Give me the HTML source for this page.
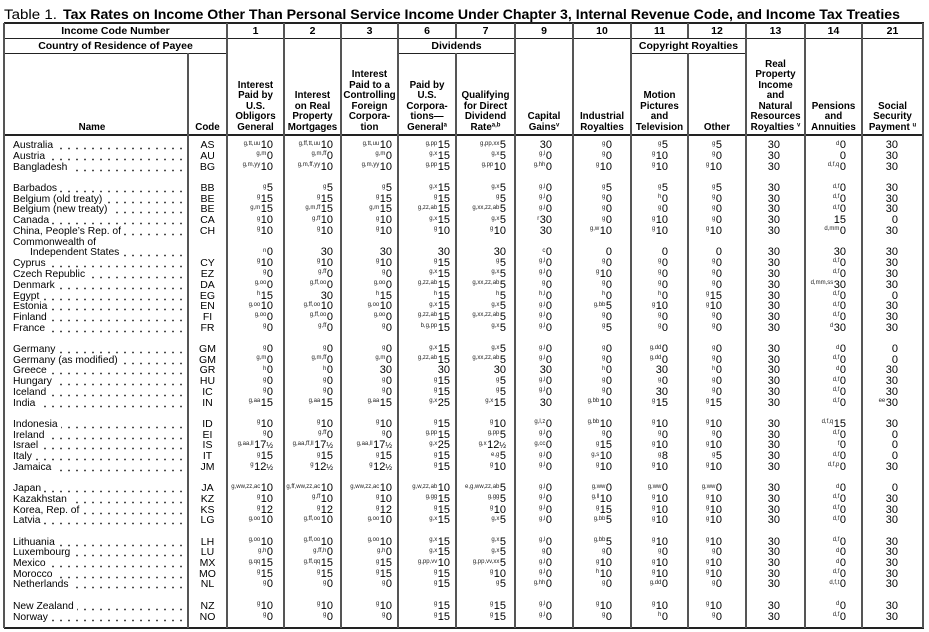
<!DOCTYPE html>
<html><head><meta charset="utf-8">
<style>
body{margin:0;background:#fff}
#p{position:relative;width:929px;height:632px;overflow:hidden;background:#fff;font-family:"Liberation Sans",Arial,sans-serif;color:#000}
.h{position:absolute;background:#222;height:1px}
.v{position:absolute;background:#555;width:2px}
.t{position:absolute;font-weight:bold;font-size:10.5px;line-height:15px;height:15px;text-align:center;white-space:nowrap}
.hd{position:absolute;bottom:499px;text-align:center;font-weight:bold;font-size:9.8px;line-height:10.5px;white-space:nowrap}
.hd i{font-style:normal;font-size:6px;line-height:0;vertical-align:3.5px}
.r{position:absolute;left:0;width:929px;height:11px;line-height:11px;font-size:11px}
.r>div{position:absolute;top:0;white-space:nowrap}
.r i{font-style:normal;font-size:6px;line-height:0;vertical-align:3.5px;margin-right:.5px;color:#222}
.r b{font-weight:normal;font-size:8px}
.n{left:13px;width:172px;font-size:10.3px;background-image:radial-gradient(circle,#333 0.7px,rgba(255,255,255,0) 1.1px);background-size:8px 3px;background-repeat:repeat-x;background-position:right 0 top 7px}
.n span{background:#fff;padding-right:3px}
.n.in{left:30px;width:155px}
.n.nd{background:none}
.cd{left:188px;width:39px;text-align:center;font-size:10.5px}
.c1{right:656px}.c2{right:596px}.c3{right:537px}.c6{right:479px}.c7{right:423px}.c9{right:377px}.c10{right:317px}.c11{right:261px}.c12{right:207px}.c13{right:149px}.c14{right:83px}.c21{right:31px}
</style></head><body><div id="p">

<svg width="929" height="23" style="position:absolute;left:0;top:0">
<text y="19" font-family="Liberation Sans, Arial, sans-serif" font-size="13.5"><tspan x="4" textLength="53" lengthAdjust="spacingAndGlyphs">Table 1.</tspan><tspan x="63" font-weight="bold" textLength="837" lengthAdjust="spacingAndGlyphs">Tax Rates on Income Other Than Personal Service Income Under Chapter 3, Internal Revenue Code, and Income Tax Treaties</tspan></text>
</svg>

<!-- horizontal lines -->
<div class="h" style="left:4px;width:920px;top:22px;height:2px"></div>
<div class="h" style="left:4px;width:920px;top:38px"></div>
<div class="h" style="left:4px;width:224px;top:53px"></div>
<div class="h" style="left:398px;width:118px;top:53px"></div>
<div class="h" style="left:631px;width:116px;top:53px"></div>
<div class="h" style="left:4px;width:920px;top:134px;height:2px"></div>
<div class="h" style="left:4px;width:920px;top:627px;height:2px"></div>

<!-- vertical lines -->
<div class="v" style="left:3px;top:23px;height:605px"></div>
<div class="v" style="left:187px;top:53px;height:575px"></div>
<div class="v" style="left:226px;top:23px;height:605px"></div>
<div class="v" style="left:283px;top:23px;height:605px"></div>
<div class="v" style="left:340px;top:23px;height:605px"></div>
<div class="v" style="left:397px;top:23px;height:605px"></div>
<div class="v" style="left:455px;top:23px;height:15px"></div>
<div class="v" style="left:455px;top:53px;height:575px"></div>
<div class="v" style="left:514px;top:23px;height:605px"></div>
<div class="v" style="left:572px;top:23px;height:605px"></div>
<div class="v" style="left:630px;top:23px;height:605px"></div>
<div class="v" style="left:687px;top:23px;height:15px"></div>
<div class="v" style="left:687px;top:53px;height:575px"></div>
<div class="v" style="left:745px;top:23px;height:605px"></div>
<div class="v" style="left:804px;top:23px;height:605px"></div>
<div class="v" style="left:861px;top:23px;height:605px"></div>
<div class="v" style="left:922px;top:23px;height:605px"></div>

<!-- header row 1 -->
<div class="t" style="top:24px;left:4px;width:223px">Income Code Number</div>
<div class="t" style="top:24px;left:227px;width:57px">1</div>
<div class="t" style="top:24px;left:284px;width:57px">2</div>
<div class="t" style="top:24px;left:341px;width:57px">3</div>
<div class="t" style="top:24px;left:398px;width:58px">6</div>
<div class="t" style="top:24px;left:456px;width:59px">7</div>
<div class="t" style="top:24px;left:515px;width:58px">9</div>
<div class="t" style="top:24px;left:573px;width:58px">10</div>
<div class="t" style="top:24px;left:631px;width:57px">11</div>
<div class="t" style="top:24px;left:688px;width:58px">12</div>
<div class="t" style="top:24px;left:746px;width:59px">13</div>
<div class="t" style="top:24px;left:805px;width:57px">14</div>
<div class="t" style="top:24px;left:862px;width:61px">21</div>
<!-- header row 2 -->
<div class="t" style="top:39px;left:4px;width:223px">Country of Residence of Payee</div>
<div class="t" style="top:39px;left:398px;width:117px">Dividends</div>
<div class="t" style="top:39px;left:631px;width:115px">Copyright Royalties</div>

<!-- column headers -->
<div class="hd" style="left:4px;width:176px">Name</div>
<div class="hd" style="left:188px;width:39px">Code</div>
<div class="hd" style="left:227px;width:57px">Interest<br>Paid by<br>U.S.<br>Obligors<br>General</div>
<div class="hd" style="left:284px;width:57px">Interest<br>on Real<br>Property<br>Mortgages</div>
<div class="hd" style="left:341px;width:57px">Interest<br>Paid to a<br>Controlling<br>Foreign<br>Corpora-<br>tion</div>
<div class="hd" style="left:398px;width:58px">Paid by<br>U.S.<br>Corpora-<br>tions—<br>General<i>a</i></div>
<div class="hd" style="left:456px;width:59px">Qualifying<br>for Direct<br>Dividend<br>Rate<i>a,b</i></div>
<div class="hd" style="left:515px;width:58px">Capital<br>Gains<i>v</i></div>
<div class="hd" style="left:573px;width:58px">Industrial<br>Royalties</div>
<div class="hd" style="left:631px;width:57px">Motion<br>Pictures<br>and<br>Television</div>
<div class="hd" style="left:688px;width:58px">Other</div>
<div class="hd" style="left:746px;width:59px">Real<br>Property<br>Income<br>and<br>Natural<br>Resources<br>Royalties <i>v</i></div>
<div class="hd" style="left:805px;width:57px">Pensions<br>and<br>Annuities</div>
<div class="hd" style="left:862px;width:61px">Social<br>Security<br>Payment <i>u</i></div>

<!-- data rows -->
<div class="r" style="top:140.2px"><div class="n"><span>Australia</span></div><div class="cd">AS</div><div class="c1"><i>g,tt,uu</i>10</div><div class="c2"><i>g,ff,tt,uu</i>10</div><div class="c3"><i>g,tt,uu</i>10</div><div class="c6"><i>g,pp</i>15</div><div class="c7"><i>g,pp,xx</i>5</div><div class="c9">30</div><div class="c10"><i>g</i>0</div><div class="c11"><i>g</i>5</div><div class="c12"><i>g</i>5</div><div class="c13">30</div><div class="c14"><i>d</i>0</div><div class="c21">30</div></div>
<div class="r" style="top:150.9px"><div class="n"><span>Austria</span></div><div class="cd">AU</div><div class="c1"><i>g,m</i>0</div><div class="c2"><i>g,m,ff</i>0</div><div class="c3"><i>g,m</i>0</div><div class="c6"><i>g,x</i>15</div><div class="c7"><i>g,x</i>5</div><div class="c9"><i>g,l</i>0</div><div class="c10"><i>g</i>0</div><div class="c11"><i>g</i>10</div><div class="c12"><i>g</i>0</div><div class="c13">30</div><div class="c14">0</div><div class="c21">30</div></div>
<div class="r" style="top:161.6px"><div class="n"><span>Bangladesh</span></div><div class="cd">BG</div><div class="c1"><i>g,m,yy</i>10</div><div class="c2"><i>g,m,ff,yy</i>10</div><div class="c3"><i>g,m,yy</i>10</div><div class="c6"><i>g,pp</i>15</div><div class="c7"><i>g,pp</i>10</div><div class="c9"><i>g,hh</i>0</div><div class="c10"><i>g</i>10</div><div class="c11"><i>g</i>10</div><div class="c12"><i>g</i>10</div><div class="c13">30</div><div class="c14"><i>d,f,q</i>0</div><div class="c21">30</div></div>

<div class="r" style="top:183.0px"><div class="n"><span>Barbados</span></div><div class="cd">BB</div><div class="c1"><i>g</i>5</div><div class="c2"><i>g</i>5</div><div class="c3"><i>g</i>5</div><div class="c6"><i>g,x</i>15</div><div class="c7"><i>g,x</i>5</div><div class="c9"><i>g,l</i>0</div><div class="c10"><i>g</i>5</div><div class="c11"><i>g</i>5</div><div class="c12"><i>g</i>5</div><div class="c13">30</div><div class="c14"><i>d,f</i>0</div><div class="c21">30</div></div>
<div class="r" style="top:193.7px"><div class="n"><span>Belgium (old treaty)</span></div><div class="cd">BE</div><div class="c1"><i>g</i>15</div><div class="c2"><i>g</i>15</div><div class="c3"><i>g</i>15</div><div class="c6"><i>g</i>15</div><div class="c7"><i>g</i>5</div><div class="c9"><i>g,l</i>0</div><div class="c10"><i>g</i>0</div><div class="c11"><i>h</i>0</div><div class="c12"><i>g</i>0</div><div class="c13">30</div><div class="c14"><i>d,f</i>0</div><div class="c21">30</div></div>
<div class="r" style="top:204.4px"><div class="n"><span>Belgium (new treaty)</span></div><div class="cd">BE</div><div class="c1"><i>g,m</i>15</div><div class="c2"><i>g,m,ff</i>15</div><div class="c3"><i>g,m</i>15</div><div class="c6"><i>g,zz,ab</i>15</div><div class="c7"><i>g,xx,zz,ab</i>5</div><div class="c9"><i>g,l</i>0</div><div class="c10"><i>g</i>0</div><div class="c11"><i>g</i>0</div><div class="c12"><i>g</i>0</div><div class="c13">30</div><div class="c14"><i>d,f</i>0</div><div class="c21">30</div></div>
<div class="r" style="top:215.1px"><div class="n"><span>Canada</span></div><div class="cd">CA</div><div class="c1"><i>g</i>10</div><div class="c2"><i>g,ff</i>10</div><div class="c3"><i>g</i>10</div><div class="c6"><i>g,x</i>15</div><div class="c7"><i>g,x</i>5</div><div class="c9"><i>r</i>30</div><div class="c10"><i>g</i>0</div><div class="c11"><i>g</i>10</div><div class="c12"><i>g</i>0</div><div class="c13">30</div><div class="c14">15</div><div class="c21">0</div></div>
<div class="r" style="top:225.8px"><div class="n"><span>China, People’s Rep. of</span></div><div class="cd">CH</div><div class="c1"><i>g</i>10</div><div class="c2"><i>g</i>10</div><div class="c3"><i>g</i>10</div><div class="c6"><i>g</i>10</div><div class="c7"><i>g</i>10</div><div class="c9">30</div><div class="c10"><i>g,w</i>10</div><div class="c11"><i>g</i>10</div><div class="c12"><i>g</i>10</div><div class="c13">30</div><div class="c14"><i>d,mm</i>0</div><div class="c21">30</div></div>
<div class="r" style="top:236.5px"><div class="n nd"><span>Commonwealth of</span></div></div>
<div class="r" style="top:247.2px"><div class="n in"><span>Independent States</span></div><div class="c1"><i>n</i>0</div><div class="c2">30</div><div class="c3">30</div><div class="c6">30</div><div class="c7">30</div><div class="c9"><i>c</i>0</div><div class="c10">0</div><div class="c11">0</div><div class="c12">0</div><div class="c13">30</div><div class="c14">30</div><div class="c21">30</div></div>
<div class="r" style="top:257.9px"><div class="n"><span>Cyprus</span></div><div class="cd">CY</div><div class="c1"><i>g</i>10</div><div class="c2"><i>g</i>10</div><div class="c3"><i>g</i>10</div><div class="c6"><i>g</i>15</div><div class="c7"><i>g</i>5</div><div class="c9"><i>g,l</i>0</div><div class="c10"><i>g</i>0</div><div class="c11"><i>g</i>0</div><div class="c12"><i>g</i>0</div><div class="c13">30</div><div class="c14"><i>d,f</i>0</div><div class="c21">30</div></div>
<div class="r" style="top:268.6px"><div class="n"><span>Czech Republic</span></div><div class="cd">EZ</div><div class="c1"><i>g</i>0</div><div class="c2"><i>g,ff</i>0</div><div class="c3"><i>g</i>0</div><div class="c6"><i>g,x</i>15</div><div class="c7"><i>g,x</i>5</div><div class="c9"><i>g,l</i>0</div><div class="c10"><i>g</i>10</div><div class="c11"><i>g</i>0</div><div class="c12"><i>g</i>0</div><div class="c13">30</div><div class="c14"><i>d,f</i>0</div><div class="c21">30</div></div>
<div class="r" style="top:279.8px"><div class="n"><span>Denmark</span></div><div class="cd">DA</div><div class="c1"><i>g,oo</i>0</div><div class="c2"><i>g,ff,oo</i>0</div><div class="c3"><i>g,oo</i>0</div><div class="c6"><i>g,zz,ab</i>15</div><div class="c7"><i>g,xx,zz,ab</i>5</div><div class="c9"><i>g</i>0</div><div class="c10"><i>g</i>0</div><div class="c11"><i>g</i>0</div><div class="c12"><i>g</i>0</div><div class="c13">30</div><div class="c14"><i>d,mm,ss</i>30</div><div class="c21">30</div></div>
<div class="r" style="top:290.5px"><div class="n"><span>Egypt</span></div><div class="cd">EG</div><div class="c1"><i>h</i>15</div><div class="c2">30</div><div class="c3"><i>h</i>15</div><div class="c6"><i>h</i>15</div><div class="c7"><i>h</i>5</div><div class="c9"><i>h,l</i>0</div><div class="c10"><i>h</i>0</div><div class="c11"><i>h</i>0</div><div class="c12"><i>g</i>15</div><div class="c13">30</div><div class="c14"><i>d,f</i>0</div><div class="c21">0</div></div>
<div class="r" style="top:301.2px"><div class="n"><span>Estonia</span></div><div class="cd">EN</div><div class="c1"><i>g,oo</i>10</div><div class="c2"><i>g,ff,oo</i>10</div><div class="c3"><i>g,oo</i>10</div><div class="c6"><i>g,x</i>15</div><div class="c7"><i>g,x</i>5</div><div class="c9"><i>g,l</i>0</div><div class="c10"><i>g,bb</i>5</div><div class="c11"><i>g</i>10</div><div class="c12"><i>g</i>10</div><div class="c13">30</div><div class="c14"><i>d,f</i>0</div><div class="c21">30</div></div>
<div class="r" style="top:311.9px"><div class="n"><span>Finland</span></div><div class="cd">FI</div><div class="c1"><i>g,oo</i>0</div><div class="c2"><i>g,ff,oo</i>0</div><div class="c3"><i>g,oo</i>0</div><div class="c6"><i>g,zz,ab</i>15</div><div class="c7"><i>g,xx,zz,ab</i>5</div><div class="c9"><i>g,l</i>0</div><div class="c10"><i>g</i>0</div><div class="c11"><i>g</i>0</div><div class="c12"><i>g</i>0</div><div class="c13">30</div><div class="c14"><i>d,f</i>0</div><div class="c21">30</div></div>
<div class="r" style="top:322.6px"><div class="n"><span>France</span></div><div class="cd">FR</div><div class="c1"><i>g</i>0</div><div class="c2"><i>g,ff</i>0</div><div class="c3"><i>g</i>0</div><div class="c6"><i>b,g,pp</i>15</div><div class="c7"><i>g,x</i>5</div><div class="c9"><i>g,l</i>0</div><div class="c10"><i>g</i>5</div><div class="c11"><i>g</i>0</div><div class="c12"><i>g</i>0</div><div class="c13">30</div><div class="c14"><i>d</i>30</div><div class="c21">30</div></div>

<div class="r" style="top:344.0px"><div class="n"><span>Germany</span></div><div class="cd">GM</div><div class="c1"><i>g</i>0</div><div class="c2"><i>g</i>0</div><div class="c3"><i>g</i>0</div><div class="c6"><i>g,x</i>15</div><div class="c7"><i>g,x</i>5</div><div class="c9"><i>g,l</i>0</div><div class="c10"><i>g</i>0</div><div class="c11"><i>g,dd</i>0</div><div class="c12"><i>g</i>0</div><div class="c13">30</div><div class="c14"><i>d</i>0</div><div class="c21">0</div></div>
<div class="r" style="top:354.7px"><div class="n"><span>Germany (as modified)</span></div><div class="cd">GM</div><div class="c1"><i>g,m</i>0</div><div class="c2"><i>g,m,ff</i>0</div><div class="c3"><i>g,m</i>0</div><div class="c6"><i>g,zz,ab</i>15</div><div class="c7"><i>g,xx,zz,ab</i>5</div><div class="c9"><i>g,l</i>0</div><div class="c10"><i>g</i>0</div><div class="c11"><i>g,dd</i>0</div><div class="c12"><i>g</i>0</div><div class="c13">30</div><div class="c14"><i>d,f</i>0</div><div class="c21">0</div></div>
<div class="r" style="top:365.4px"><div class="n"><span>Greece</span></div><div class="cd">GR</div><div class="c1"><i>h</i>0</div><div class="c2"><i>h</i>0</div><div class="c3">30</div><div class="c6">30</div><div class="c7">30</div><div class="c9">30</div><div class="c10"><i>h</i>0</div><div class="c11">30</div><div class="c12"><i>h</i>0</div><div class="c13">30</div><div class="c14"><i>d</i>0</div><div class="c21">30</div></div>
<div class="r" style="top:376.1px"><div class="n"><span>Hungary</span></div><div class="cd">HU</div><div class="c1"><i>g</i>0</div><div class="c2"><i>g</i>0</div><div class="c3"><i>g</i>0</div><div class="c6"><i>g</i>15</div><div class="c7"><i>g</i>5</div><div class="c9"><i>g,l</i>0</div><div class="c10"><i>g</i>0</div><div class="c11"><i>g</i>0</div><div class="c12"><i>g</i>0</div><div class="c13">30</div><div class="c14"><i>d,f</i>0</div><div class="c21">30</div></div>
<div class="r" style="top:386.8px"><div class="n"><span>Iceland</span></div><div class="cd">IC</div><div class="c1"><i>g</i>0</div><div class="c2"><i>g</i>0</div><div class="c3"><i>g</i>0</div><div class="c6"><i>g</i>15</div><div class="c7"><i>g</i>5</div><div class="c9"><i>g,l</i>0</div><div class="c10"><i>g</i>0</div><div class="c11">30</div><div class="c12"><i>g</i>0</div><div class="c13">30</div><div class="c14"><i>d,f</i>0</div><div class="c21">30</div></div>
<div class="r" style="top:397.5px"><div class="n"><span>India</span></div><div class="cd">IN</div><div class="c1"><i>g,aa</i>15</div><div class="c2"><i>g,aa</i>15</div><div class="c3"><i>g,aa</i>15</div><div class="c6"><i>g,x</i>25</div><div class="c7"><i>g,x</i>15</div><div class="c9">30</div><div class="c10"><i>g,bb</i>10</div><div class="c11"><i>g</i>15</div><div class="c12"><i>g</i>15</div><div class="c13">30</div><div class="c14"><i>d,f</i>0</div><div class="c21"><i>ee</i>30</div></div>

<div class="r" style="top:418.9px"><div class="n"><span>Indonesia</span></div><div class="cd">ID</div><div class="c1"><i>g</i>10</div><div class="c2"><i>g</i>10</div><div class="c3"><i>g</i>10</div><div class="c6"><i>g</i>15</div><div class="c7"><i>g</i>10</div><div class="c9"><i>g,l,z</i>0</div><div class="c10"><i>g,bb</i>10</div><div class="c11"><i>g</i>10</div><div class="c12"><i>g</i>10</div><div class="c13">30</div><div class="c14"><i>d,f,q</i>15</div><div class="c21">30</div></div>
<div class="r" style="top:429.6px"><div class="n"><span>Ireland</span></div><div class="cd">EI</div><div class="c1"><i>g</i>0</div><div class="c2"><i>g,ff</i>0</div><div class="c3"><i>g</i>0</div><div class="c6"><i>g,pp</i>15</div><div class="c7"><i>g,pp</i>5</div><div class="c9"><i>g,l</i>0</div><div class="c10"><i>g</i>0</div><div class="c11"><i>g</i>0</div><div class="c12"><i>g</i>0</div><div class="c13">30</div><div class="c14"><i>d,f</i>0</div><div class="c21">0</div></div>
<div class="r" style="top:440.3px"><div class="n"><span>Israel</span></div><div class="cd">IS</div><div class="c1"><i>g,aa,ll</i>17<b>½</b></div><div class="c2"><i>g,aa,ff,ll</i>17<b>½</b></div><div class="c3"><i>g,aa,ll</i>17<b>½</b></div><div class="c6"><i>g,x</i>25</div><div class="c7"><i>g,x</i>12<b>½</b></div><div class="c9"><i>g,cc</i>0</div><div class="c10"><i>g</i>15</div><div class="c11"><i>g</i>10</div><div class="c12"><i>g</i>10</div><div class="c13">30</div><div class="c14"><i>f</i>0</div><div class="c21">0</div></div>
<div class="r" style="top:451.0px"><div class="n"><span>Italy</span></div><div class="cd">IT</div><div class="c1"><i>g</i>15</div><div class="c2"><i>g</i>15</div><div class="c3"><i>g</i>15</div><div class="c6"><i>g</i>15</div><div class="c7"><i>e,g</i>5</div><div class="c9"><i>g,l</i>0</div><div class="c10"><i>g,s</i>10</div><div class="c11"><i>g</i>8</div><div class="c12"><i>g</i>5</div><div class="c13">30</div><div class="c14"><i>d,f</i>0</div><div class="c21">0</div></div>
<div class="r" style="top:461.7px"><div class="n"><span>Jamaica</span></div><div class="cd">JM</div><div class="c1"><i>g</i>12<b>½</b></div><div class="c2"><i>g</i>12<b>½</b></div><div class="c3"><i>g</i>12<b>½</b></div><div class="c6"><i>g</i>15</div><div class="c7"><i>g</i>10</div><div class="c9"><i>g,l</i>0</div><div class="c10"><i>g</i>10</div><div class="c11"><i>g</i>10</div><div class="c12"><i>g</i>10</div><div class="c13">30</div><div class="c14"><i>d,f,p</i>0</div><div class="c21">30</div></div>

<div class="r" style="top:483.1px"><div class="n"><span>Japan</span></div><div class="cd">JA</div><div class="c1"><i>g,ww,zz,ac</i>10</div><div class="c2"><i>g,ff,ww,zz,ac</i>10</div><div class="c3"><i>g,ww,zz,ac</i>10</div><div class="c6"><i>g,w,zz,ab</i>10</div><div class="c7"><i>e,g,ww,zz,ab</i>5</div><div class="c9"><i>g,l</i>0</div><div class="c10"><i>g,ww</i>0</div><div class="c11"><i>g,ww</i>0</div><div class="c12"><i>g,ww</i>0</div><div class="c13">30</div><div class="c14"><i>d</i>0</div><div class="c21">0</div></div>
<div class="r" style="top:493.8px"><div class="n"><span>Kazakhstan</span></div><div class="cd">KZ</div><div class="c1"><i>g</i>10</div><div class="c2"><i>g,ff</i>10</div><div class="c3"><i>g</i>10</div><div class="c6"><i>g,gg</i>15</div><div class="c7"><i>g,gg</i>5</div><div class="c9"><i>g,l</i>0</div><div class="c10"><i>g,ll</i>10</div><div class="c11"><i>g</i>10</div><div class="c12"><i>g</i>10</div><div class="c13">30</div><div class="c14"><i>d,f</i>0</div><div class="c21">30</div></div>
<div class="r" style="top:504.5px"><div class="n"><span>Korea, Rep. of</span></div><div class="cd">KS</div><div class="c1"><i>g</i>12</div><div class="c2"><i>g</i>12</div><div class="c3"><i>g</i>12</div><div class="c6"><i>g</i>15</div><div class="c7"><i>g</i>10</div><div class="c9"><i>g,l</i>0</div><div class="c10"><i>g</i>15</div><div class="c11"><i>g</i>10</div><div class="c12"><i>g</i>10</div><div class="c13">30</div><div class="c14"><i>d,f</i>0</div><div class="c21">30</div></div>
<div class="r" style="top:515.2px"><div class="n"><span>Latvia</span></div><div class="cd">LG</div><div class="c1"><i>g,oo</i>10</div><div class="c2"><i>g,ff,oo</i>10</div><div class="c3"><i>g,oo</i>10</div><div class="c6"><i>g,x</i>15</div><div class="c7"><i>g,x</i>5</div><div class="c9"><i>g,l</i>0</div><div class="c10"><i>g,bb</i>5</div><div class="c11"><i>g</i>10</div><div class="c12"><i>g</i>10</div><div class="c13">30</div><div class="c14"><i>d,f</i>0</div><div class="c21">30</div></div>

<div class="r" style="top:536.6px"><div class="n"><span>Lithuania</span></div><div class="cd">LH</div><div class="c1"><i>g,oo</i>10</div><div class="c2"><i>g,ff,oo</i>10</div><div class="c3"><i>g,oo</i>10</div><div class="c6"><i>g,x</i>15</div><div class="c7"><i>g,x</i>5</div><div class="c9"><i>g,l</i>0</div><div class="c10"><i>g,bb</i>5</div><div class="c11"><i>g</i>10</div><div class="c12"><i>g</i>10</div><div class="c13">30</div><div class="c14"><i>d,f</i>0</div><div class="c21">30</div></div>
<div class="r" style="top:547.3px"><div class="n"><span>Luxembourg</span></div><div class="cd">LU</div><div class="c1"><i>g,h</i>0</div><div class="c2"><i>g,ff,h</i>0</div><div class="c3"><i>g,h</i>0</div><div class="c6"><i>g,x</i>15</div><div class="c7"><i>g,x</i>5</div><div class="c9"><i>g</i>0</div><div class="c10"><i>g</i>0</div><div class="c11"><i>g</i>0</div><div class="c12"><i>g</i>0</div><div class="c13">30</div><div class="c14"><i>d</i>0</div><div class="c21">30</div></div>
<div class="r" style="top:558.0px"><div class="n"><span>Mexico</span></div><div class="cd">MX</div><div class="c1"><i>g,qq</i>15</div><div class="c2"><i>g,ff,qq</i>15</div><div class="c3"><i>g</i>15</div><div class="c6"><i>g,pp,vv</i>10</div><div class="c7"><i>g,pp,vv,xx</i>5</div><div class="c9"><i>g,l</i>0</div><div class="c10"><i>g</i>10</div><div class="c11"><i>g</i>10</div><div class="c12"><i>g</i>10</div><div class="c13">30</div><div class="c14"><i>d</i>0</div><div class="c21">30</div></div>
<div class="r" style="top:568.7px"><div class="n"><span>Morocco</span></div><div class="cd">MO</div><div class="c1"><i>g</i>15</div><div class="c2"><i>g</i>15</div><div class="c3"><i>g</i>15</div><div class="c6"><i>g</i>15</div><div class="c7"><i>g</i>10</div><div class="c9"><i>g,l</i>0</div><div class="c10"><i>h</i>10</div><div class="c11"><i>g</i>10</div><div class="c12"><i>g</i>10</div><div class="c13">30</div><div class="c14"><i>d,f</i>0</div><div class="c21">30</div></div>
<div class="r" style="top:579.4px"><div class="n"><span>Netherlands</span></div><div class="cd">NL</div><div class="c1"><i>g</i>0</div><div class="c2"><i>g</i>0</div><div class="c3"><i>g</i>0</div><div class="c6"><i>g</i>15</div><div class="c7"><i>g</i>5</div><div class="c9"><i>g,hh</i>0</div><div class="c10"><i>g</i>0</div><div class="c11"><i>g,dd</i>0</div><div class="c12"><i>g</i>0</div><div class="c13">30</div><div class="c14"><i>d,f,t</i>0</div><div class="c21">30</div></div>

<div class="r" style="top:600.8px"><div class="n"><span>New Zealand</span></div><div class="cd">NZ</div><div class="c1"><i>g</i>10</div><div class="c2"><i>g</i>10</div><div class="c3"><i>g</i>10</div><div class="c6"><i>g</i>15</div><div class="c7"><i>g</i>15</div><div class="c9"><i>g,l</i>0</div><div class="c10"><i>g</i>10</div><div class="c11"><i>g</i>10</div><div class="c12"><i>g</i>10</div><div class="c13">30</div><div class="c14"><i>d</i>0</div><div class="c21">30</div></div>
<div class="r" style="top:611.5px"><div class="n"><span>Norway</span></div><div class="cd">NO</div><div class="c1"><i>g</i>0</div><div class="c2"><i>g</i>0</div><div class="c3"><i>g</i>0</div><div class="c6"><i>g</i>15</div><div class="c7"><i>g</i>15</div><div class="c9"><i>g,l</i>0</div><div class="c10"><i>g</i>0</div><div class="c11"><i>h</i>0</div><div class="c12"><i>g</i>0</div><div class="c13">30</div><div class="c14"><i>d,f</i>0</div><div class="c21">30</div></div>

</div></body></html>
